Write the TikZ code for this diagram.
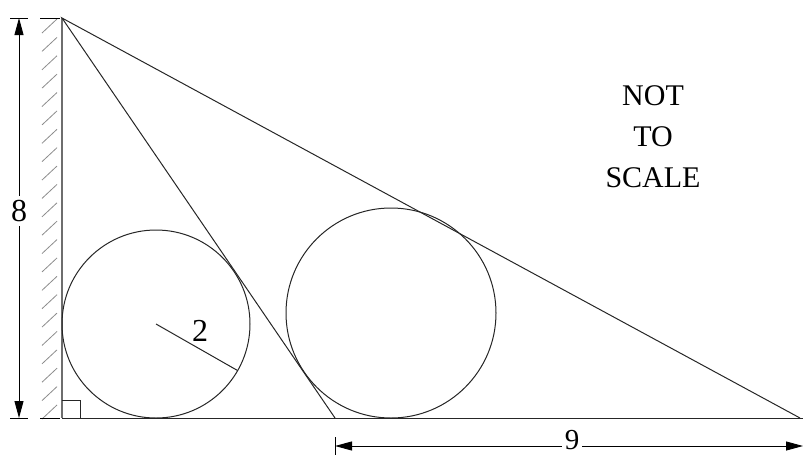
\documentclass[tikz,border=0pt]{standalone}
\usepackage{fontspec}
\setmainfont{Liberation Serif}
\usetikzlibrary{arrows.meta,calc}
\definecolor{wallgray}{RGB}{110,110,110}
\definecolor{hatchgray}{RGB}{140,140,140}

\begin{document}
\begin{tikzpicture}[x=1pt,y=-1pt,
  geo/.style={line width=1pt, black!85},
  dimline/.style={line width=0.9pt, -{Triangle[length=17pt,width=9pt]}},
  tick/.style={line width=0.9pt},
  numlabel/.style={font=\fontsize{32}{32}\selectfont, inner sep=4pt}]

  \useasboundingbox (0,0) rectangle (803,456);

  %% Key points
  \coordinate (top)  at (62,18);
  \coordinate (foot) at (62,418);
  \coordinate (mid)  at (335,418);
  \coordinate (far)  at (800,418);
  \coordinate (edge) at (803,418);

  %% Wall with hatching
  \foreach \i in {0,...,21}
    \draw[hatchgray, line width=0.8pt] (42,{33+18.38*\i}) -- ++(15,-14);
  \draw[wallgray, line width=1.6pt] (foot) -- (top);

  %% Ticks
  \draw[tick] (10,18) -- (28,18);
  \draw[tick] (40,18) -- (60,18);
  \draw[tick] (10,418) -- (28,418);
  \draw[tick] (40,418) -- (60,418);
  \draw[tick] (335,437) -- (335,455);

  %% Ground and the two slopes
  \draw[geo] (foot) -- (edge);
  \draw[geo] (mid) -- (top) -- (far);

  %% Right angle
  \draw[geo, line width=0.8pt] ($(foot)+(0,-18)$) -| ($(foot)+(18,0)$);

  %% Circles
  \coordinate (smallc) at (156,324);
  \coordinate (bigc)   at (391,313);
  \draw[geo] (smallc) circle[radius=94pt];
  \draw[geo] (bigc) circle[radius=105pt];

  %% Radius
  \coordinate (rim) at ($(smallc)+(-29.7:94pt)$);
  \draw[geo] (smallc) -- (rim);
  \node[numlabel] (two) at (200,331) {2};

  %% Height
  \coordinate (dimtop) at (19,18);
  \coordinate (dimbot) at (19,418);
  \node[numlabel] (eight) at (19,211) {8};
  \draw[dimline] (eight) -- (dimtop);
  \draw[dimline] (eight) -- (dimbot);

  %% Base
  \coordinate (dimleft)  at (335,446);
  \coordinate (dimright) at (803,446);
  \node[font=\fontsize{29}{29}\selectfont, inner sep=3pt] (nine) at (572,440) {9};
  \draw[dimline] (nine.west |- dimleft) -- (dimleft);
  \draw[dimline] (nine.east |- dimright) -- (dimright);

  %% Note
  \node[align=center, font=\fontsize{30}{41}\selectfont] (note) at (653,137) {NOT\\TO\\SCALE};
\end{tikzpicture}
\end{document}
